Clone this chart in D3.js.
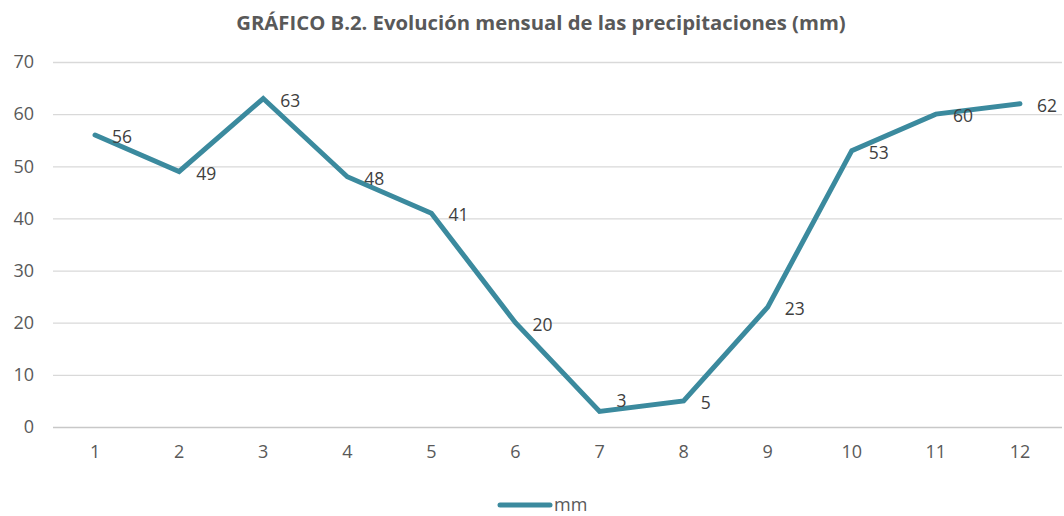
<!DOCTYPE html>
<html><head><meta charset="utf-8">
<script src="https://cdn.jsdelivr.net/npm/d3@7"></script>
<style>body{margin:0;background:#fff}svg{display:block;font-family:"Open Sans",sans-serif}</style>
</head><body><svg id="c" width="1064" height="516"></svg>
<script>
const months = ["1","2","3","4","5","6","7","8","9","10","11","12"];
const mm = [56,49,63,48,41,20,3,5,23,53,60,62];
const yTicks = [0,10,20,30,40,50,60,70];
const title = "GRÁFICO B.2. Evolución mensual de las precipitaciones (mm)";
const seriesName = "mm";

(function(){
const svg = d3.select("#c");
const mLeft = 53, mRight = 1062, mTop = 62, mBottom = 427;
const x = d3.scaleBand().domain(months).range([mLeft, mRight]);
const y = d3.scaleLinear().domain([0,70]).range([mBottom, mTop]);
const color = "#3b8a9e";

svg.append("text").attr("x", 541).attr("y", 30).attr("text-anchor","middle")
  .attr("font-size", 20.3).attr("font-weight","bold").attr("fill","#595959").text(title);

const ya = svg.append("g").attr("transform",`translate(${mLeft},0)`)
  .call(d3.axisLeft(y).tickValues(yTicks).tickSize(-(mRight-mLeft)).tickPadding(19));
ya.select(".domain").remove();
ya.selectAll(".tick line").attr("stroke","#d9d9d9").attr("stroke-width",1.3);
ya.selectAll(".tick text").attr("font-size",18).attr("fill","#595959").attr("font-family","Open Sans");
ya.selectAll(".tick").filter(d=>d===0).select("line").attr("stroke","#c8c8c8").attr("stroke-width",1.6);

const xa = svg.append("g").attr("transform",`translate(0,${mBottom})`)
  .call(d3.axisBottom(x).tickSize(0).tickPadding(18));
xa.select(".domain").remove();
xa.selectAll(".tick text").attr("font-size",18).attr("fill","#595959").attr("font-family","Open Sans");

const line = d3.line().x((d,i)=>x(months[i])+x.bandwidth()/2).y(d=>y(d));
svg.append("path").datum(mm).attr("d",line).attr("fill","none")
  .attr("stroke",color).attr("stroke-width",5).attr("stroke-linejoin","miter").attr("stroke-linecap","round");

svg.append("g").selectAll("text").data(mm).join("text")
  .attr("x",(d,i)=>x(months[i])+x.bandwidth()/2+17)
  .attr("y",d=>y(d)+(d===3 ? -4 : 8))
  .attr("font-size",17.5).attr("fill","#404040").text(d=>d);

const lg = svg.append("g");
lg.append("line").attr("x1",500).attr("x2",550).attr("y1",505).attr("y2",505)
  .attr("stroke",color).attr("stroke-width",5).attr("stroke-linecap","round");
lg.append("text").attr("x",554).attr("y",511).attr("font-size",18).attr("fill","#595959").text(seriesName);
})();
</script></body></html>
